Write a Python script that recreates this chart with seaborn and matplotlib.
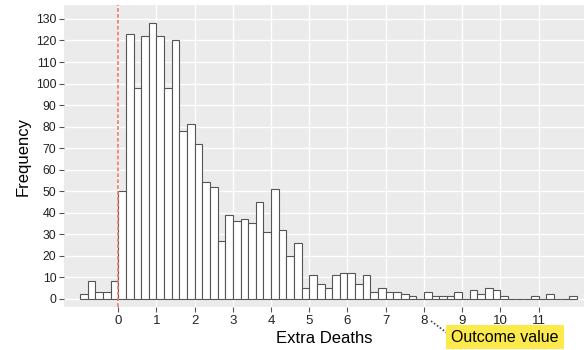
import numpy as np
import pandas as pd
import matplotlib
matplotlib.use("Agg")
import matplotlib.pyplot as plt
from matplotlib.lines import Line2D
import seaborn as sns

# ---- data ----
bin_width = 0.2
first_edge = -1.0
counts = [2, 8, 3, 3, 8,                      # -1.0 .. -0.2
          50, 123, 98, 122, 128,              # 0.0 .. 0.8
          122, 98, 120, 78, 81,               # 1.0 .. 1.8
          72, 54, 52, 27, 39,                 # 2.0 .. 2.8
          36, 37, 35, 45, 31,                 # 3.0 .. 3.8
          51, 32, 20, 26, 5,                  # 4.0 .. 4.8
          11, 7, 5, 11, 12,                   # 5.0 .. 5.8
          12, 7, 11, 3, 5,                    # 6.0 .. 6.8
          3, 3, 2, 1, 0,                      # 7.0 .. 7.8
          3, 1, 1, 1, 3,                      # 8.0 .. 8.8
          0, 4, 2, 5, 4,                      # 9.0 .. 9.8
          1, 0, 0, 0, 1,                      # 10.0 .. 10.8
          0, 2, 0, 0, 1]                      # 11.0 .. 11.8
x_ticks = [0, 1, 2, 3, 4, 5, 6, 7, 8, 9, 10, 11]
y_ticks = [0, 10, 20, 30, 40, 50, 60, 70, 80, 90, 100, 110, 120, 130]
x_label = "Extra Deaths"
y_label = "Frequency"
ref_line_x = 0
annotation_text = "Outcome value"

edges = [round(first_edge + bin_width * i, 2) for i in range(len(counts) + 1)]
centers = [round((edges[i] + edges[i + 1]) / 2, 2) for i in range(len(counts))]
df = pd.DataFrame({"value": centers, "count": counts})

# ---- style ----
sns.set_theme(style="darkgrid", rc={
    "axes.facecolor": "#EBEBEB",
    "grid.color": "white",
    "grid.linewidth": 1.0,
})
plt.rcParams["font.family"] = ["Liberation Sans", "DejaVu Sans"]

fig = plt.figure(figsize=(5.88, 3.5), dpi=100)
ax = fig.add_axes([64 / 588, 43 / 350, 520 / 588, 302 / 350])

sns.histplot(data=df, x="value", weights="count", bins=edges,
             color="white", edgecolor="#555555", linewidth=0.8, alpha=1,
             ax=ax)

ax.axvline(ref_line_x, color="#F27B75", linestyle=(0, (2.2, 1.2)),
           linewidth=1.25, zorder=3)

ax.set_xlim(-1.42, 12.19)
ax.set_ylim(-3.9, 136.5)
ax.set_xticks(x_ticks)
ax.set_yticks(y_ticks)
ax.set_xticklabels([str(t) for t in x_ticks])
ax.set_yticklabels([str(t) for t in y_ticks])
ax.grid(True, which="major", color="white", linewidth=1.0, zorder=0)
ax.set_axisbelow(True)
for s in ax.spines.values():
    s.set_visible(False)

ax.tick_params(axis="both", which="major", length=3.5, width=0.8,
               color="#555555", labelcolor="#222222", pad=2,
               bottom=True, left=True)
ax.tick_params(axis="x", labelsize=9.5)
ax.tick_params(axis="y", labelsize=8.8)
ax.set_xlabel(x_label, fontsize=12, color="black", labelpad=3)
ax.set_ylabel(y_label, fontsize=12, color="black", labelpad=4)

# annotation box with dotted leader from the "8" tick label
fig.text(505 / 588, 1 - 337 / 350, annotation_text, ha="center", va="center",
         fontsize=11.5, color="black",
         bbox=dict(boxstyle="square,pad=0.3", facecolor="#FCE94A",
                   edgecolor="none"))
fig.add_artist(Line2D([431 / 588, 447 / 588], [1 - 321 / 350, 1 - 333 / 350],
                      transform=fig.transFigure, color="#444444",
                      linestyle=(0, (1, 1.2)), linewidth=1.2))

fig.savefig("out.png", dpi=100)
